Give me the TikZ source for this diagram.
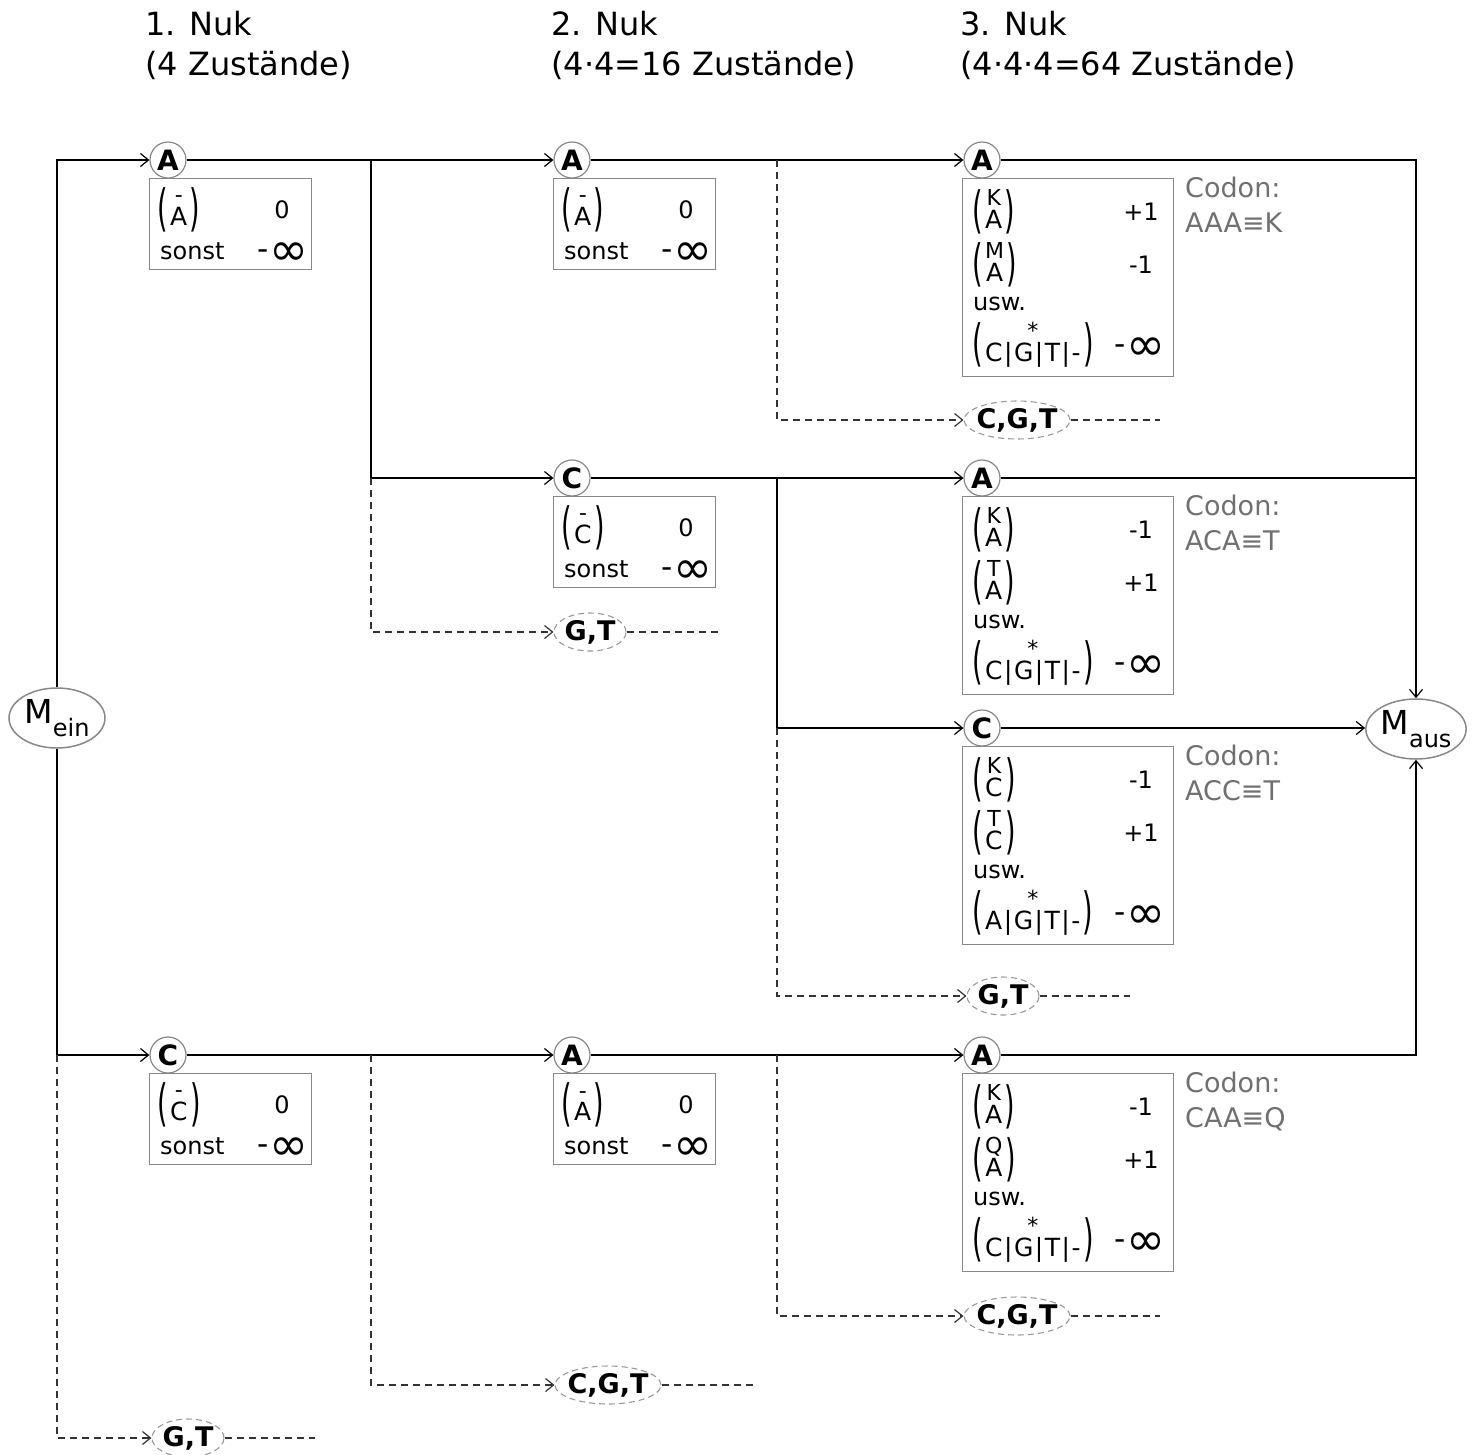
\documentclass[tikz,border=0pt]{standalone}
\usepackage{fontspec}
\setmainfont{DejaVu Sans}
\usepackage{graphicx}
\usetikzlibrary{arrows.meta,shapes.geometric}
\definecolor{boxgray}{HTML}{888888}
\definecolor{dashgray}{HTML}{333333}
\definecolor{ellgray}{HTML}{999999}
\definecolor{codongray}{HTML}{707070}

\newcommand\pmat[2]{\ensuremath{\vcenter{\hbox{\fontsize{27}{27}\selectfont\scalebox{1}[1.85]{(}}}\kern2.5pt\vcenter{\hbox{\fontsize{22}{22}\selectfont\begin{tabular}{@{}c@{}}{\fontsize{22}{22}\selectfont #1}\\[-2pt]{\fontsize{25}{25}\selectfont #2}\end{tabular}}}\kern2.5pt\vcenter{\hbox{\fontsize{27}{27}\selectfont\scalebox{1}[1.85]{)}}}}}
\newcommand\minf{\scalebox{1.3}{-}\kern1pt\raisebox{-6pt}{\scalebox{1.95}{∞}}}
\newcommand\Msub[1]{{\fontsize{33}{33}\selectfont M}\raisebox{-13pt}{\fontsize{24}{24}\selectfont #1}}
\newcommand\bars{\kern1.5pt|\kern1.5pt}

\newcommand\simplebox[4]{%
  \node[sboxst] (#1) at ([xshift=-19pt,yshift=-18pt]#2.center) {};
  \node[txt,anchor=west] (#1p) at ([xshift=8pt,yshift=-32pt]#1.north west) {\pmat{#3}{#4}};
  \node[txt] (#1z) at ([xshift=133pt,yshift=-32pt]#1.north west) {0};
  \node[txt,anchor=base west] (#1s) at ([xshift=11pt,yshift=-81pt]#1.north west) {sonst};
  \node[txt,anchor=base] (#1i) at ([xshift=134pt,yshift=-81pt]#1.north west) {\minf};
}
\newcommand\codonbox[9]{%
  \node[cboxst] (#1) at ([xshift=-20pt,yshift=-18pt]#2.center) {};
  \node[txt,anchor=west] (#1a) at ([xshift=10pt,yshift=-34pt]#1.north west) {\pmat{#4}{#3}};
  \node[txt] (#1av) at ([xshift=179pt,yshift=-34pt]#1.north west) {#5};
  \node[txt,anchor=west] (#1b) at ([xshift=10pt,yshift=-87pt]#1.north west) {\pmat{#6}{#3}};
  \node[txt] (#1bv) at ([xshift=179pt,yshift=-87pt]#1.north west) {#7};
  \node[txt,anchor=base west] (#1u) at ([xshift=11pt,yshift=-132pt]#1.north west) {usw.};
  \node[txt,anchor=west] (#1c) at ([xshift=10pt,yshift=-167pt]#1.north west) {\pmat{*}{#8}};
  \node[txt,anchor=base] (#1cv) at ([xshift=178pt,yshift=-176pt]#1.north west) {\minf};
  \node[codon,anchor=base west] (#1t) at ([xshift=223pt,yshift=-19pt]#1.north west) {Codon:};
  \node[codon,anchor=base west] (#1tt) at ([xshift=223pt,yshift=-54pt]#1.north west) {#9};
}

\begin{document}
\begin{tikzpicture}[x=1pt,y=-1pt,
  >={Straight Barb[length=8pt,width=13pt,line width=1.2pt]},
  every node/.style={inner sep=0pt},
  ttl/.style={anchor=base west,font=\fontsize{32}{32}\selectfont},
  circ/.style={circle,draw=boxgray,line width=1.2pt,minimum size=36pt,inner sep=0pt,font=\fontsize{28}{28}\selectfont\bfseries},
  dell/.style={ellipse,draw=ellgray,line width=1.1pt,dash pattern=on 6pt off 4pt,inner xsep=-3pt,inner ysep=0pt,minimum width=72pt,minimum height=38pt,font=\fontsize{27}{27}\selectfont\bfseries},
  mell/.style={ellipse,draw=boxgray,line width=1.5pt,minimum width=96pt,minimum height=60pt,inner sep=0pt},
  sboxst/.style={rectangle,draw=boxgray,line width=1.2pt,minimum width=162pt,minimum height=91pt,anchor=north west},
  cboxst/.style={rectangle,draw=boxgray,line width=1.2pt,minimum width=211pt,minimum height=198pt,anchor=north west},
  txt/.style={font=\fontsize{24}{28}\selectfont},
  codon/.style={font=\fontsize{27}{27}\selectfont,text=codongray},
  conn/.style={line width=1.4pt,draw=black},
  dconn/.style={line width=1.4pt,draw=dashgray,dash pattern=on 7pt off 5pt},
]
\useasboundingbox (0,0) rectangle (1472,1454);

% titles
\node[ttl] (t1a) at (145,35) {1. Nuk};
\node[ttl] (t1b) at (145,75) {(4 Zustände)};
\node[ttl] (t2a) at (551,35) {2. Nuk};
\node[ttl] (t2b) at (551,75) {(4·4=16 Zustände)};
\node[ttl] (t3a) at (960,35) {3. Nuk};
\node[ttl] (t3b) at (960,75) {(4·4·4=64 Zustände)};

% start / end
\node[mell] (Mein) at (57,718) {\Msub{ein}};
\node[mell] (Maus) at (1416,729) {\Msub{aus}};

% state circles
\node[circ] (A1) at (168,160) {A};
\node[circ] (C1) at (168,1055) {C};
\node[circ] (A2) at (572,160) {A};
\node[circ] (C2) at (572,478) {C};
\node[circ] (A2c) at (572,1055) {A};
\node[circ] (A3a) at (982,160) {A};
\node[circ] (A3b) at (982,478) {A};
\node[circ] (C3c) at (982,728) {C};
\node[circ] (A3d) at (982,1055) {A};

% dashed ellipses
\node[dell] (GT1) at (188,1438) {G,T};
\node[dell] (GT2) at (590,632) {G,T};
\node[dell] (CGT2c) at (608,1385) {C,G,T};
\node[dell] (CGT3a) at (1017,420) {C,G,T};
\node[dell] (GT3c) at (1003,996) {G,T};
\node[dell] (CGT3d) at (1017,1316) {C,G,T};

% boxes
\simplebox{B1}{A1}{-}{A}
\simplebox{B2}{A2}{-}{A}
\simplebox{B3}{C2}{-}{C}
\simplebox{B4}{C1}{-}{C}
\simplebox{B5}{A2c}{-}{A}
\codonbox{K1}{A3a}{A}{K}{+1}{M}{-1}{C\bars G\bars T\bars -}{AAA≡K}
\codonbox{K2}{A3b}{A}{K}{-1}{T}{+1}{C\bars G\bars T\bars -}{ACA≡T}
\codonbox{K3}{C3c}{C}{K}{-1}{T}{+1}{A\bars G\bars T\bars -}{ACC≡T}
\codonbox{K4}{A3d}{A}{K}{-1}{Q}{+1}{C\bars G\bars T\bars -}{CAA≡Q}

% split points and tail ends
\coordinate (s1) at (371,160);
\coordinate (s1b) at (371,478);
\coordinate (s2) at (777,160);
\coordinate (s3) at (777,478);
\coordinate (s3b) at (777,728);
\coordinate (s0) at (57,1055);
\coordinate (s5) at (371,1055);
\coordinate (s6) at (777,1055);
\coordinate (eGT1) at (315,1438);
\coordinate (eGT2) at (720,632);
\coordinate (eCGT2c) at (755,1385);
\coordinate (eCGT3a) at (1160,420);
\coordinate (eGT3c) at (1130,996);
\coordinate (eCGT3d) at (1160,1316);

% solid connectors
\draw[conn,->] (Mein.north) |- (A1.west);
\draw[conn,->] (Mein.south) |- (C1.west);
\draw[conn,->] (A1.east) -- (A2.west);
\draw[conn,->] (s1) |- (C2.west);
\draw[conn,->] (A2.east) -- (A3a.west);
\draw[conn,->] (C2.east) -- (A3b.west);
\draw[conn,->] (s3) |- (C3c.west);
\draw[conn,->] (C1.east) -- (A2c.west);
\draw[conn,->] (A2c.east) -- (A3d.west);
\draw[conn,->] (A3a.east) -| (Maus.north);
\draw[conn] (A3b.east) -- (A3b.east -| Maus.north);
\draw[conn,->] (C3c.east) -- (C3c.east -| Maus.west);
\draw[conn,->] (A3d.east) -| (Maus.south);

% dashed connectors
\draw[dconn,->] (s1b) |- (GT2.west);
\draw[dconn,->] (s2) |- (CGT3a.west);
\draw[dconn,->] (s3b) |- (GT3c.west);
\draw[dconn,->] (s0) |- (GT1.west);
\draw[dconn,->] (s5) |- (CGT2c.west);
\draw[dconn,->] (s6) |- (CGT3d.west);
\draw[dconn] (GT1.east) -- (eGT1);
\draw[dconn] (GT2.east) -- (eGT2);
\draw[dconn] (CGT2c.east) -- (eCGT2c);
\draw[dconn] (CGT3a.east) -- (eCGT3a);
\draw[dconn] (GT3c.east) -- (eGT3c);
\draw[dconn] (CGT3d.east) -- (eCGT3d);
\end{tikzpicture}
\end{document}
